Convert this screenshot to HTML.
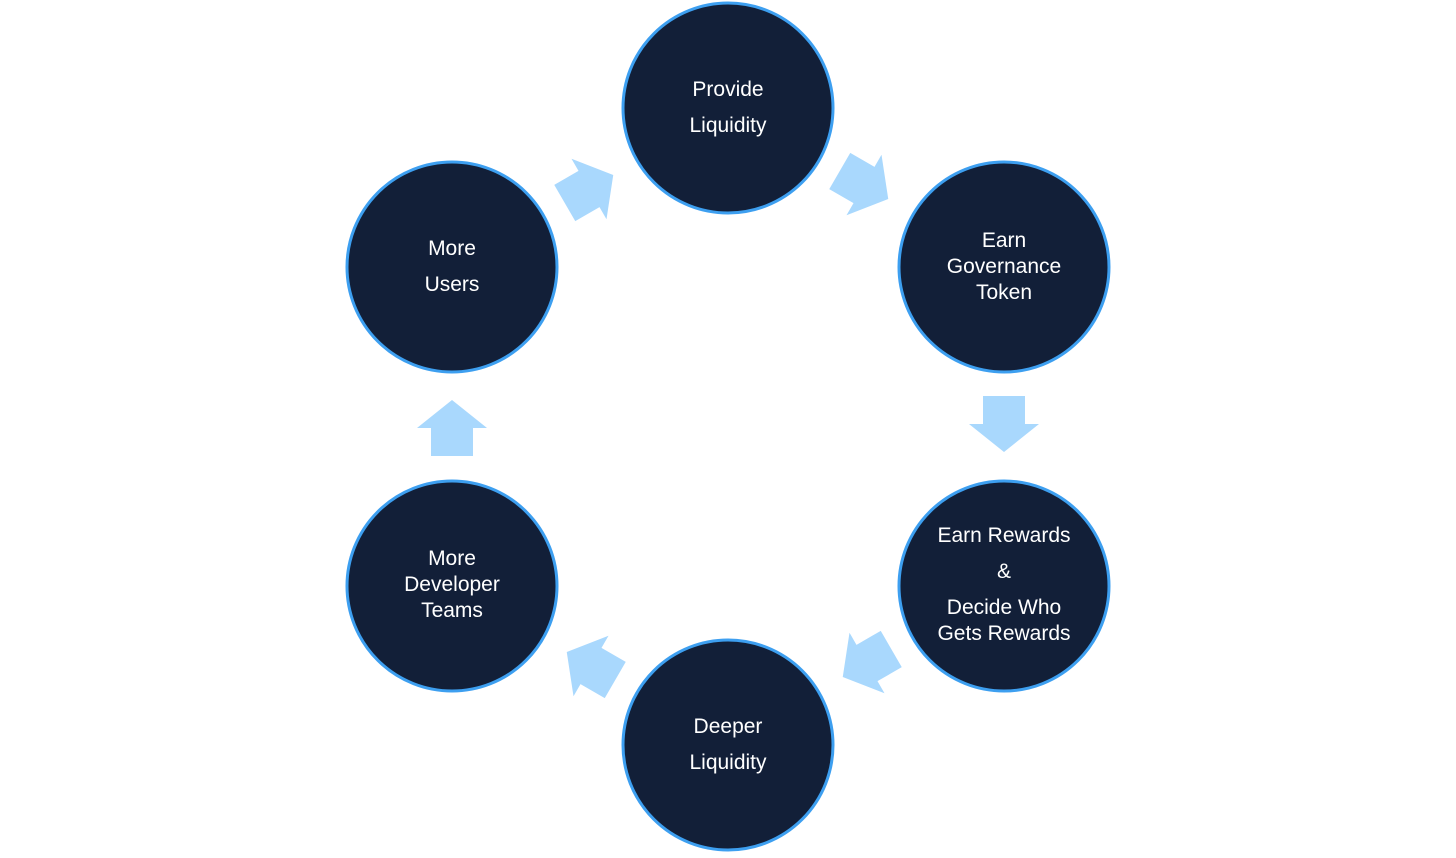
<!DOCTYPE html>
<html><head><style>
body{margin:0;background:#fff;}
svg text{font-family:"Liberation Sans",sans-serif;font-size:21px;fill:#fff;text-anchor:middle;}
</style></head><body>
<svg width="1456" height="853" viewBox="0 0 1456 853">
<defs>
<polygon id="ar" points="-28,-21 0,-21 0,-35 28,0 0,35 0,21 -28,21" fill="#a9d8fd"/>
</defs>
<g stroke="#3d9ff0" stroke-width="3" fill="#121f38">
<circle cx="728" cy="108" r="105"/>
<circle cx="1004" cy="267" r="105"/>
<circle cx="1004" cy="586" r="105"/>
<circle cx="728" cy="745" r="105"/>
<circle cx="452" cy="586" r="105"/>
<circle cx="452" cy="267" r="105"/>
</g>
<use href="#ar" transform="translate(589,189) rotate(-30)"/>
<use href="#ar" transform="translate(864,185) rotate(30)"/>
<use href="#ar" transform="translate(1004,424) rotate(90)"/>
<use href="#ar" transform="translate(867,663) rotate(150)"/>
<use href="#ar" transform="translate(591,666) rotate(210)"/>
<use href="#ar" transform="translate(452,428) rotate(-90)"/>
<text x="728" y="96">Provide</text><text x="728" y="132">Liquidity</text>
<text x="1004" y="247">Earn</text><text x="1004" y="273">Governance</text><text x="1004" y="299">Token</text>
<text x="1004" y="542">Earn Rewards</text><text x="1004" y="578">&amp;</text><text x="1004" y="614">Decide Who</text><text x="1004" y="640">Gets Rewards</text>
<text x="728" y="733">Deeper</text><text x="728" y="769">Liquidity</text>
<text x="452" y="565">More</text><text x="452" y="591">Developer</text><text x="452" y="617">Teams</text>
<text x="452" y="255">More</text><text x="452" y="291">Users</text>
</svg>
</body></html>
